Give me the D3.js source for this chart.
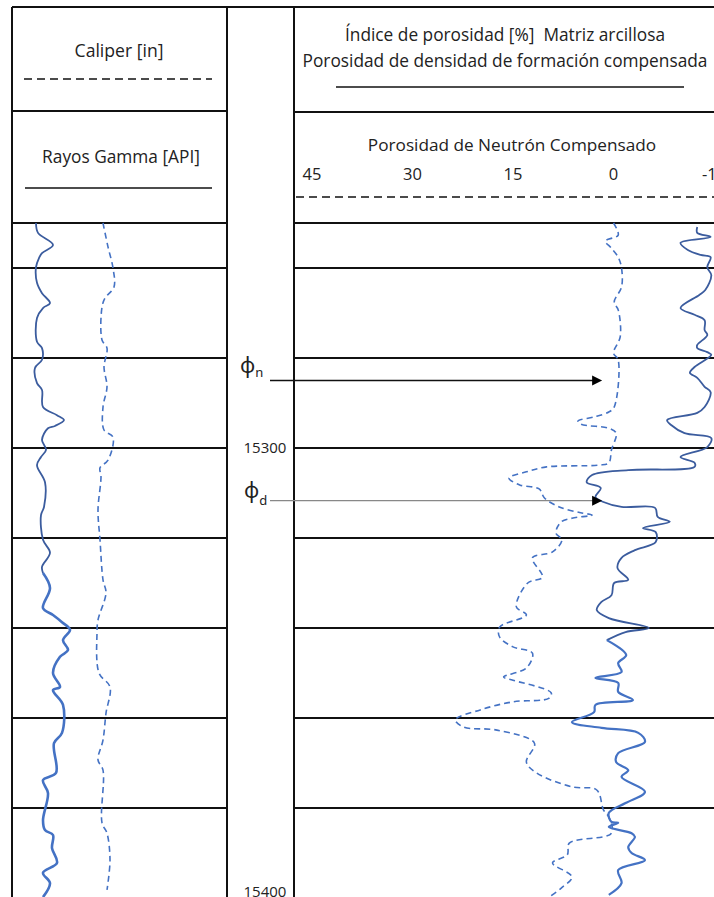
<!DOCTYPE html>
<html><head><meta charset="utf-8">
<script src="https://cdn.jsdelivr.net/npm/d3@7"></script>
<style>
html,body{margin:0;padding:0;background:#fff;overflow:hidden}
svg{display:block}
text{font-family:"Open Sans","Noto Sans",sans-serif;fill:#222}
</style></head><body>
<svg id="chart" width="714" height="897"></svg>
<script>
// ---------------- DATA ----------------
// [depth ft, API]
const gammaRay = [
 [15250.0,24],[15252.2,26],[15254.9,41],[15256.7,30],[15257.8,27],[15259.8,24],[15263.3,25],[15265.6,30],
 [15267.8,38],[15268.9,31],[15271.1,25],[15276.4,25],[15277.8,30],[15280.4,30],[15282.2,23],[15285.6,25],
 [15287.1,30],[15290.9,31],[15292.7,45],[15293.8,52],[15295.1,43],[15295.6,36],[15298.2,30],[15300.4,34],
 [15302.0,29],[15303.8,25],[15307.6,33],[15313.1,32],[15314.9,29],[15320.4,31],[15323.3,38],[15326.4,30],
 [15327.8,31],[15331.1,38],[15335.6,31],[15337.1,41],[15338.7,50],[15340.4,58],[15342.7,51],[15344.9,56],
 [15346.4,48],[15350.0,41],[15353.1,48],[15353.8,41],[15357.1,51],[15363.3,50],[15365.6,42],[15372.2,44],
 [15373.8,31],[15376.7,36],[15382.7,31],[15384.9,33],[15386.0,41],[15388.9,40],[15392.2,45],[15394.4,31],
 [15396.7,38],[15399.8,31]
];
// [depth ft, inches]
const caliper = [
 [15250.0,9.1],[15255.3,9.6],[15260.0,10.1],[15264.2,10.2],[15266.7,9.3],[15268.7,9.0],[15276.0,9.0],
 [15277.8,9.5],[15282.0,9.2],[15286.4,9.5],[15290.9,9.1],[15296.0,9.2],[15297.6,10.1],[15302.7,9.6],
 [15304.4,8.8],[15306.4,8.9],[15313.8,8.6],[15320.4,8.8],[15329.3,9.1],[15332.2,9.4],[15338.2,8.6],
 [15341.1,8.5],[15350.0,8.7],[15353.1,9.8],[15358.9,9.4],[15364.9,9.1],[15369.3,8.6],[15371.6,9.1],
 [15383.3,9.0],[15385.6,9.5],[15391.6,9.8],[15398.2,9.5]
];
// [depth ft, porosity %]
const neutronPorosity = [
 [15250.0,0.0],[15252.7,-0.7],[15254.0,1.2],[15255.6,0.3],[15257.6,-0.7],[15260.0,-1.2],[15264.2,-1.2],
 [15267.6,-0.1],[15269.3,-0.7],[15275.3,-1.0],[15278.9,0.0],[15280.4,-0.7],[15290.9,-0.1],[15292.0,0.7],
 [15293.1,2.9],[15294.0,5.3],[15294.7,4.9],[15295.6,0.7],[15296.7,-0.4],[15300.4,0.3],[15303.3,0.7],
 [15303.8,2.2],[15304.2,10.0],[15305.3,13.0],[15306.7,15.6],[15308.2,14.0],[15309.1,11.1],[15311.1,10.3],
 [15313.1,8.1],[15314.4,4.9],[15314.9,3.2],[15315.6,6.2],[15316.4,7.8],[15318.9,8.6],[15320.4,7.7],
 [15323.1,9.1],[15324.4,12.1],[15328.7,10.6],[15330.0,12.8],[15335.3,14.5],[15337.1,13.0],[15339.8,17.0],
 [15342.0,17.0],[15344.2,15.0],[15345.6,12.1],[15348.9,13.0],[15350.9,16.4],[15351.6,15.0],[15354.4,9.3],
 [15355.6,9.6],[15356.4,15.0],[15358.2,19.9],[15360.4,23.6],[15362.0,22.4],[15362.7,17.4],[15365.6,11.8],
 [15369.8,13.0],[15372.2,11.5],[15375.3,6.2],[15376.0,2.5],[15380.4,1.5],[15382.0,0.7],[15385.6,0.3],
 [15387.8,6.6],[15390.4,6.9],[15392.2,9.1],[15395.3,6.2],[15397.8,7.8],[15399.8,9.6]
];
// [depth ft, porosity %]
const densityPorosity = [
 [15250.9,-12.5],[15252.2,-12.5],[15253.1,-14.5],[15254.4,-10.0],[15256.0,-11.1],[15257.1,-13.0],[15257.6,-14.5],
 [15259.8,-14.0],[15261.6,-14.6],[15264.9,-13.7],[15266.0,-12.8],[15268.9,-10.0],[15270.4,-12.1],[15271.6,-13.6],
 [15273.8,-13.6],[15274.9,-14.0],[15277.1,-12.5],[15277.8,-12.5],[15278.7,-14.0],[15279.3,-14.6],[15282.0,-12.1],
 [15283.3,-11.4],[15284.4,-12.5],[15286.4,-13.6],[15287.6,-14.5],[15290.9,-13.6],[15292.2,-12.5],[15293.8,-8.0],
 [15294.9,-8.6],[15296.7,-10.6],[15297.8,-14.6],[15299.8,-14.0],[15302.0,-10.0],[15303.3,-12.1],[15304.2,-12.1],
 [15304.9,-2.2],[15306.0,3.2],[15307.6,4.0],[15308.9,1.9],[15310.9,2.7],[15312.0,1.5],[15313.1,-1.2],
 [15313.3,-6.2],[15315.3,-6.6],[15316.4,-8.4],[15317.8,-4.4],[15318.7,-6.3],[15320.9,-6.3],[15322.7,-3.2],
 [15324.4,-1.2],[15326.7,-0.6],[15329.3,-2.2],[15330.0,-0.1],[15332.7,0.3],[15334.2,1.8],[15336.0,2.5],
 [15337.8,0.7],[15340.0,-5.3],[15340.9,-1.8],[15342.7,1.0],[15346.0,-1.9],[15347.8,-0.7],[15349.8,-1.2],
 [15351.1,2.7],[15352.2,-0.7],[15354.2,-0.7],[15356.0,-2.9],[15357.1,2.7],[15358.7,2.9],[15360.9,6.2],
 [15362.2,1.8],[15363.3,-3.7],[15365.3,-4.7],[15367.8,-0.7],[15369.8,-0.4],[15371.6,-2.2],[15373.1,-1.2],
 [15376.4,-4.7],[15378.9,-1.8],[15381.1,0.7],[15383.1,0.3],[15383.3,-0.7],[15384.2,0.7],[15385.6,-2.7],
 [15386.4,-3.2],[15388.7,-2.2],[15390.0,-2.7],[15391.6,-4.7],[15393.8,-0.7],[15396.7,-1.2],[15399.3,0.7]
];
const gridDepths = [15250, 15260, 15280, 15300, 15320, 15340, 15360, 15380];
const depthLabels = [15300, 15400];
const porosityTicks = [45, 30, 15, 0, -15];
const annotations = [
 {sym: "ϕ", sub: "n", depth: 15285.0, porosity: 1.7},
 {sym: "ϕ", sub: "d", depth: 15311.7, porosity: 1.7}
];

// ---------------- LAYOUT ----------------
const W = 714, H = 897;
const L0 = 12, L1 = 227, R0 = 294, R1 = 714;
const topY = 7;
const svg = d3.select("#chart");

const y = d3.scaleLinear().domain([15250, 15400]).range([223, 898]);
const xGR = d3.scaleLinear().domain([0, 200]).range([12, 212]);
const xCal = d3.scaleLinear().domain([0, 20]).range([12, 212]);
const xPor = d3.scaleLinear().domain([45, -15]).range([312, 714]);

const ink = "#111";
const blueDark = "#3b5c9e", blue = "#4472c4";

function hline(x1, x2, yy, opts = {}) {
  svg.append("line").attr("x1", x1).attr("x2", x2).attr("y1", yy).attr("y2", yy)
    .attr("stroke", opts.color || ink).attr("stroke-width", opts.w || 2)
    .attr("stroke-dasharray", opts.dash || null);
}
function vline(xx, y1, y2) {
  svg.append("line").attr("x1", xx).attr("x2", xx).attr("y1", y1).attr("y2", y2)
    .attr("stroke", ink).attr("stroke-width", 2);
}

// frame
hline(L0, R1, topY);
hline(L0, L1, 111);
hline(R0, R1, 112);
vline(L0, topY, H);
vline(L1, topY, H);
vline(R0, topY, H);

// gridlines (including header bottom)
gridDepths.forEach(d => {
  hline(L0, L1 + 1, y(d));
  hline(R0, R1, y(d));
});

// header text
function txt(s, x, yy, size, anchor = "middle") {
  return svg.append("text").attr("x", x).attr("y", yy).attr("text-anchor", anchor)
    .attr("font-size", size).style("white-space", "pre").text(s);
}
txt("Caliper [in]", 119, 57, 17.6);
hline(24, 212, 79, {w: 1.5, dash: "8,5"});
txt("Rayos Gamma [API]", 121, 163, 17.3);
hline(25, 212, 188, {w: 1.5});

txt("Índice de porosidad [%]  Matriz arcillosa", 505, 41, 17.3);
txt("Porosidad de densidad de formación compensada", 505, 67, 17.3);
hline(336, 684, 87, {w: 1.5});
txt("Porosidad de Neutrón Compensado", 512, 151, 17.2);
porosityTicks.forEach(t => txt(String(t), xPor(t), 180, 16.5));
hline(296, R1, 197, {w: 1.5, dash: "8,5"});

// depth labels
depthLabels.forEach(d => {
  txt(String(d), 265, Math.min(y(d) + 5, 897), 15);
});

// curves
const lineGen = (xs) => d3.line().x(d => xs(d[1])).y(d => y(d[0])).curve(d3.curveCatmullRom.alpha(0.5));
function splitAt(data, depth) {
  const i = data.findIndex(d => d[0] >= depth);
  return [data.slice(0, i + 1), data.slice(i)];
}
function curve(data, xs, color, w, dash) {
  svg.append("path").datum(data).attr("d", lineGen(xs))
    .attr("fill", "none").attr("stroke", color).attr("stroke-width", w)
    .attr("stroke-linejoin", "round").attr("stroke-linecap", "butt")
    .attr("stroke-dasharray", dash || null);
}
const [grUp, grLo] = splitAt(gammaRay, 15327.8);
curve(grUp, xGR, blueDark, 1.8);
curve(grLo, xGR, blue, 2.6);
curve(caliper, xCal, blue, 1.6, "6,4");

curve(neutronPorosity, xPor, blue, 1.6, "6,4");
const [dUp, dLo] = splitAt(densityPorosity, 15342.7);
curve(dUp, xPor, blueDark, 1.8);
curve(dLo, xPor, blue, 2.2);

// annotations
annotations.forEach((a, i) => {
  const yy = y(a.depth), tip = xPor(a.porosity);
  const col = i === 0 ? "#111" : "#888";
  svg.append("line").attr("x1", 270).attr("x2", tip - 8).attr("y1", yy).attr("y2", yy)
    .attr("stroke", col).attr("stroke-width", 1.3);
  svg.append("path").attr("d", `M${tip},${yy} L${tip - 10},${yy - 5} L${tip - 10},${yy + 5} Z`).attr("fill", "#000");
  const t = svg.append("text").attr("x", i === 0 ? 240 : 244).attr("y", yy - (i === 0 ? 8 : 3))
    .style("font-family", "'Noto Sans', 'DejaVu Sans', sans-serif").attr("font-size", 21);
  t.append("tspan").text(a.sym);
  t.append("tspan").attr("font-size", 13).attr("dy", i === 0 ? 4 : 7).text(a.sub);
});
</script>
</body></html>
